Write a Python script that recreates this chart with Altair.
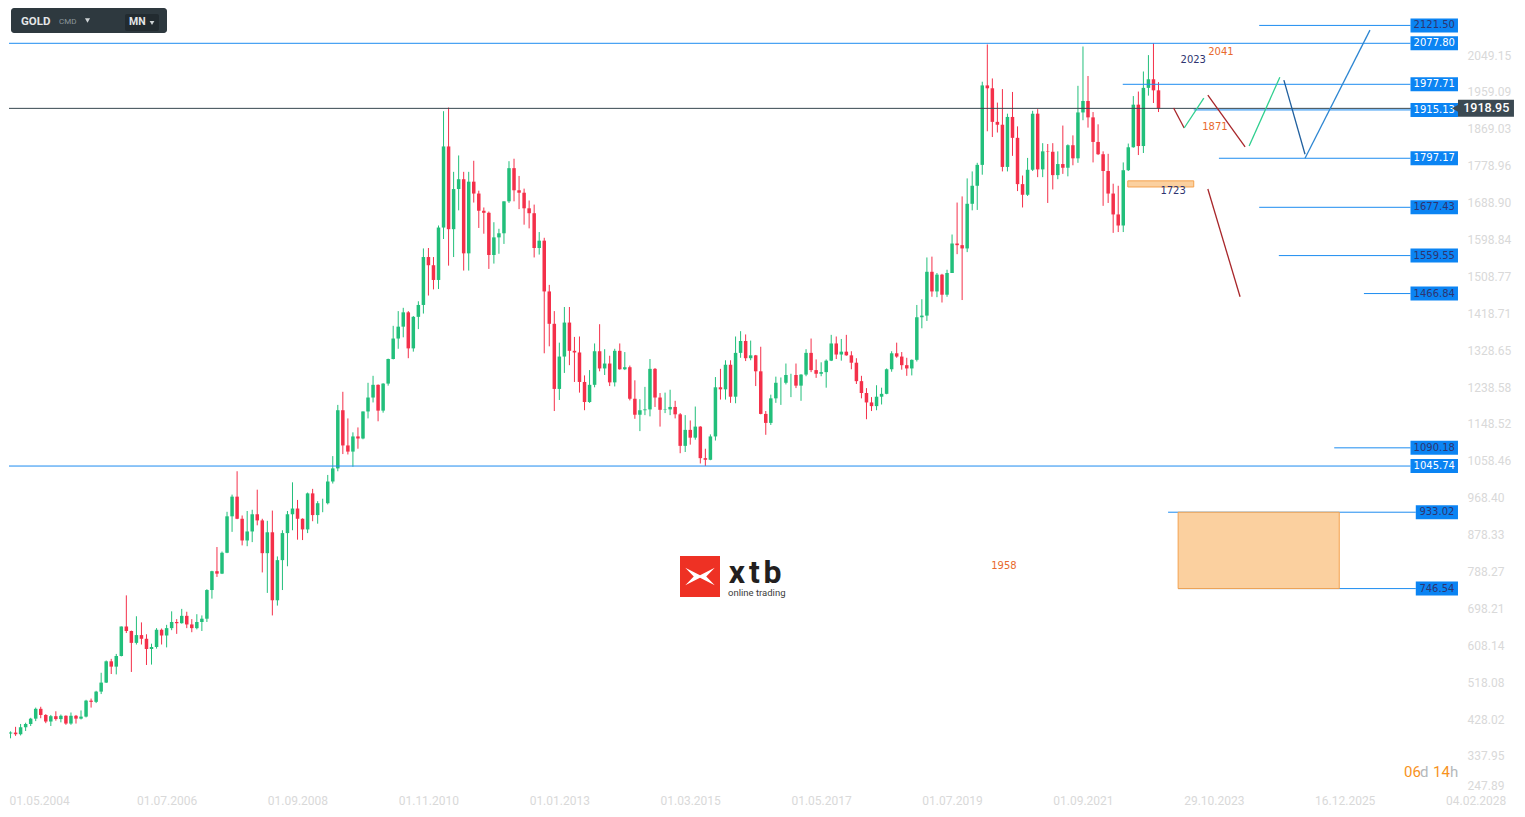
import altair as alt
import pandas as pd

# ---------------- monthly GOLD candles: May 2004 .. Jun 2023 ----------------
OPEN = [
    387, 393, 395, 391, 408, 416, 429, 453,
    438, 422, 435, 428, 436, 417, 436, 429, 434, 473, 470, 495,
    517, 569, 556, 582, 654, 643, 614, 633, 624, 599, 604, 646,
    632, 650, 665, 662, 680, 659, 650, 665, 673, 743, 789, 783,
    834, 923, 971, 917, 864, 886, 928, 913, 833, 884, 718, 816,
    882, 928, 942, 917, 891, 979, 926, 955, 955, 1008, 1040, 1182,
    1096, 1081, 1118, 1113, 1179, 1213, 1244, 1181, 1247, 1307, 1357, 1386,
    1421, 1333, 1410, 1439, 1556, 1536, 1500, 1628, 1826, 1624, 1722, 1746,
    1565, 1740, 1711, 1669, 1664, 1561, 1604, 1614, 1692, 1773, 1719, 1713,
    1675, 1663, 1578, 1596, 1472, 1393, 1234, 1313, 1396, 1327, 1323, 1251,
    1202, 1244, 1326, 1284, 1296, 1250, 1327, 1282, 1287, 1210, 1171, 1182,
    1184, 1283, 1213, 1183, 1184, 1190, 1172, 1095, 1134, 1115, 1142, 1065,
    1061, 1118, 1238, 1233, 1293, 1215, 1322, 1351, 1309, 1316, 1277, 1173,
    1151, 1211, 1249, 1249, 1268, 1268, 1242, 1269, 1322, 1280, 1271, 1275,
    1303, 1345, 1318, 1325, 1316, 1298, 1253, 1224, 1201, 1192, 1215, 1222,
    1282, 1321, 1313, 1292, 1284, 1305, 1409, 1413, 1520, 1472, 1513, 1464,
    1517, 1589, 1585, 1577, 1686, 1730, 1781, 1975, 1968, 1886, 1879, 1776,
    1898, 1847, 1734, 1708, 1769, 1906, 1770, 1814, 1813, 1756, 1783, 1774,
    1829, 1797, 1909, 1937, 1897, 1837, 1807, 1766, 1711, 1660, 1633, 1768,
    1824, 1928, 1827, 1969, 1990, 1963,
]
HIGH = [
    395, 398, 409, 416, 419, 431, 456, 458,
    440, 438, 447, 439, 437, 444, 438, 449, 475, 478, 497, 541,
    571, 575, 587, 654, 730, 644, 679, 664, 635, 612, 650, 649,
    658, 691, 672, 697, 690, 672, 684, 681, 745, 790, 848, 837,
    934, 976, 1033, 925, 936, 939, 988, 917, 912, 937, 825, 889,
    936, 1006, 963, 918, 981, 990, 960, 966, 1024, 1070, 1195, 1227,
    1162, 1128, 1140, 1179, 1249, 1266, 1245, 1248, 1308, 1388, 1424, 1432,
    1424, 1412, 1448, 1577, 1578, 1556, 1633, 1912, 1921, 1764, 1804, 1764,
    1764, 1791, 1718, 1677, 1667, 1641, 1625, 1692, 1790, 1796, 1754, 1723,
    1694, 1684, 1617, 1603, 1488, 1424, 1347, 1434, 1434, 1361, 1362, 1267,
    1280, 1345, 1392, 1331, 1315, 1332, 1345, 1324, 1291, 1255, 1209, 1239,
    1307, 1285, 1224, 1225, 1232, 1205, 1175, 1170, 1157, 1191, 1143, 1088,
    1123, 1263, 1283, 1304, 1304, 1362, 1375, 1367, 1352, 1317, 1337, 1180,
    1220, 1264, 1262, 1296, 1271, 1296, 1270, 1331, 1357, 1306, 1299, 1306,
    1366, 1362, 1356, 1366, 1326, 1309, 1266, 1236, 1214, 1243, 1237, 1284,
    1326, 1347, 1324, 1310, 1306, 1439, 1453, 1555, 1557, 1517, 1515, 1525,
    1611, 1689, 1704, 1748, 1765, 1786, 1984, 2075, 1992, 1933, 1966, 1906,
    1959, 1875, 1755, 1798, 1913, 1917, 1834, 1832, 1834, 1814, 1877, 1831,
    1853, 1974, 2070, 1998, 1910, 1880, 1814, 1808, 1735, 1730, 1787, 1833,
    1949, 1960, 2009, 2049, 2078, 1983,
]
LOW = [
    371, 381, 387, 388, 399, 411, 423, 430,
    418, 411, 424, 420, 414, 414, 417, 427, 432, 456, 467, 489,
    516, 538, 537, 581, 638, 543, 610, 610, 560, 561, 600, 610,
    603, 645, 636, 661, 650, 640, 647, 643, 665, 722, 775, 782,
    833, 885, 916, 852, 850, 860, 901, 786, 736, 681, 705, 743,
    801, 889, 866, 865, 882, 911, 905, 933, 952, 1003, 1033, 1075,
    1074, 1044, 1088, 1111, 1162, 1201, 1155, 1176, 1242, 1306, 1332, 1360,
    1309, 1325, 1380, 1418, 1462, 1477, 1478, 1600, 1535, 1556, 1670, 1523,
    1523, 1689, 1627, 1613, 1527, 1540, 1564, 1588, 1688, 1692, 1673, 1635,
    1626, 1555, 1562, 1321, 1338, 1180, 1207, 1273, 1292, 1251, 1225, 1182,
    1200, 1238, 1277, 1268, 1241, 1240, 1281, 1280, 1206, 1161, 1131, 1170,
    1167, 1190, 1142, 1175, 1170, 1162, 1077, 1080, 1098, 1110, 1052, 1046,
    1060, 1108, 1208, 1208, 1200, 1199, 1310, 1302, 1304, 1241, 1172, 1122,
    1146, 1200, 1195, 1245, 1214, 1236, 1205, 1265, 1275, 1261, 1265, 1237,
    1302, 1307, 1303, 1315, 1282, 1246, 1211, 1160, 1180, 1182, 1196, 1221,
    1276, 1310, 1281, 1266, 1267, 1301, 1382, 1400, 1459, 1458, 1445, 1459,
    1517, 1563, 1451, 1568, 1670, 1671, 1757, 1863, 1849, 1860, 1765, 1765,
    1803, 1717, 1677, 1705, 1766, 1751, 1751, 1688, 1721, 1746, 1759, 1753,
    1780, 1786, 1890, 1872, 1787, 1805, 1681, 1688, 1615, 1617, 1617, 1766,
    1823, 1805, 1810, 1950, 1932, 1910,
]
CLOSE = [
    393, 395, 391, 408, 416, 429, 453, 438,
    422, 435, 428, 436, 417, 436, 429, 434, 473, 470, 495, 517,
    569, 556, 582, 654, 643, 614, 633, 624, 599, 604, 646, 632,
    650, 665, 662, 680, 659, 650, 665, 673, 743, 789, 783, 834,
    923, 971, 917, 864, 886, 928, 913, 833, 884, 718, 816, 882,
    928, 942, 917, 891, 979, 926, 955, 955, 1008, 1040, 1182, 1096,
    1081, 1118, 1113, 1179, 1213, 1244, 1181, 1247, 1307, 1357, 1386, 1421,
    1333, 1410, 1439, 1556, 1536, 1500, 1628, 1826, 1624, 1722, 1746, 1565,
    1740, 1711, 1669, 1664, 1561, 1604, 1614, 1692, 1773, 1719, 1713, 1675,
    1663, 1578, 1596, 1472, 1393, 1234, 1313, 1396, 1327, 1323, 1251, 1202,
    1244, 1326, 1284, 1296, 1250, 1327, 1282, 1287, 1210, 1171, 1182, 1184,
    1283, 1213, 1183, 1184, 1190, 1172, 1095, 1134, 1115, 1142, 1065, 1061,
    1118, 1238, 1233, 1293, 1215, 1322, 1351, 1309, 1316, 1277, 1173, 1151,
    1211, 1249, 1249, 1268, 1268, 1242, 1269, 1322, 1280, 1271, 1275, 1303,
    1345, 1318, 1325, 1316, 1298, 1253, 1224, 1201, 1192, 1215, 1222, 1282,
    1321, 1313, 1292, 1284, 1305, 1409, 1413, 1520, 1472, 1513, 1464, 1517,
    1589, 1585, 1577, 1686, 1730, 1781, 1975, 1968, 1886, 1879, 1776, 1898,
    1847, 1734, 1708, 1769, 1906, 1770, 1814, 1813, 1756, 1783, 1774, 1829,
    1797, 1909, 1937, 1897, 1837, 1807, 1766, 1711, 1660, 1633, 1768, 1824,
    1928, 1827, 1969, 1990, 1963, 1918.95,
]

# ---------------- axis tick labels ----------------
X_TICKS = [0.7, 26, 52, 78, 104, 130, 156, 182, 208, 234, 260, 286]
X_LABELS = ["01.05.2004", "01.07.2006", "01.09.2008", "01.11.2010", "01.01.2013",
            "01.03.2015", "01.05.2017", "01.07.2019", "01.09.2021", "29.10.2023",
            "16.12.2025", "04.02.2028"]
Y_TICKS = [247.89, 337.95, 428.02, 518.08, 608.14, 698.21, 788.27, 878.33, 968.40,
           1058.46, 1148.52, 1238.58, 1328.65, 1418.71, 1508.77, 1598.84, 1688.90,
           1778.96, 1869.03, 1959.09, 2049.15]

# ---------------- price levels (horizontal lines with tags) ----------------
LEVELS = [2121.50, 2077.80, 1977.71, 1915.13, 1797.17, 1677.43, 1559.55, 1466.84,
          1090.18, 1045.74, 933.02, 746.54]
LEVEL_FROM = [249.0, 0.695, 221.9, 236.0, 241.0, 249.0, 252.9, 269.8, 263.9, 0.695, 230.9, 232.9]
LEVEL_TAG_FROM = [279.05, 279.05, 279.05, 279.05, 279.05, 279.05, 279.05, 279.05, 279.05,
                  279.05, 280.1, 280.1]
LEVEL_TAG_TO = 288.48
LEVEL_DARK_TEXT = [True, False, False, False, False, True, True, True, True, False, True, True]

CURRENT_PRICE = 1918.95

# ---------------- scenario paths (month index, price) ----------------
PATHS = {
    "r1": ([232.0, 234.1], [1920, 1871]),
    "g1": ([234.1, 238.0], [1871, 1944]),
    "r2": ([238.8, 246.2], [1951, 1825]),
    "g2": ([247.0, 253.1], [1827, 1995]),
    "b1": ([253.9, 258.1], [1988, 1807]),
    "b2": ([258.1, 271.0], [1797, 2110]),
    "r3": ([238.8, 245.2], [1722, 1459]),
}
PATH_COLORS = {"r1": "#a8262a", "g1": "#2fcf8f", "r2": "#a8262a", "g2": "#2fcf8f",
               "b1": "#1f5f9e", "b2": "#2d86d2", "r3": "#a8262a"}

# ---------------- zones ----------------
ZONE_X = [222.9, 232.9]
ZONE_X2 = [236.0, 264.9]
ZONE_Y = [1727, 746.54]
ZONE_Y2 = [1742, 933.02]

# ---------------- notes ----------------
NOTE_TEXT = ["2023", "2041", "1871", "1723", "1958"]
NOTE_X = [235.9, 241.4, 240.2, 231.9, 198.3]
NOTE_Y = [2037, 2056.6, 1873.3, 1717, 802]
NOTE_ORANGE = [False, True, True, False, True]

# ---------------- styles ----------------
UP, DOWN = "#22bf7b", "#f4304a"
LINE_BLUE, TAG_BLUE = "#1d8cf0", "#0b84f3"
NAVY, ORANGE = "#2e3470", "#e8692c"
AXIS_GRAY = "#d9d9d9"

X_MIN, X_MAX = 0.695, 289.08
Y_MIN, Y_MAX = 242.6, 2164.0
W, H = 1452, 787

SX = alt.Scale(domain=[X_MIN, X_MAX], nice=False, zero=False, padding=0)
SY = alt.Scale(domain=[Y_MIN, Y_MAX], nice=False, zero=False, padding=0)
label_expr = "[" + ",".join("'%s'" % s for s in X_LABELS) + "][round(datum.value/26)]"
AX = alt.Axis(values=X_TICKS, labelExpr=label_expr, labelAlign="left", labelBaseline="middle",
              labelPadding=5, labelColor=AXIS_GRAY, labelFont="Roboto", labelFontSize=12,
              domain=False, ticks=False, grid=False, title=None, labelFlush=False,
              labelOverlap=False)
AY = alt.Axis(orient="right", values=Y_TICKS, format=".2f", labelPadding=6,
              labelBaseline={"condition": {"test": "datum.value < 300", "value": "bottom"},
                             "value": "middle"},
              labelColor=AXIS_GRAY, labelFont="Roboto", labelFontSize=12,
              domain=False, ticks=False, grid=False, title=None, labelOverlap=False)


def X(f):
    return alt.X(f, type="quantitative", scale=SX, axis=AX)


def Y(f):
    return alt.Y(f, type="quantitative", scale=SY, axis=AY)


candles = pd.DataFrame({"i": list(range(len(CLOSE))), "o": OPEN, "h": HIGH, "l": LOW, "c": CLOSE})
cand_color = alt.condition("datum.c >= datum.o", alt.value(UP), alt.value(DOWN))

wicks = alt.Chart(candles).mark_rule(strokeWidth=1, clip=True).encode(
    x=X("i"), y=Y("l"), y2="h", color=cand_color)
bodies = alt.Chart(candles).mark_bar(size=3.5, clip=True).encode(
    x=X("i"), y=Y("o"), y2="c", color=cand_color)

levels = pd.DataFrame({"p": LEVELS, "x0": LEVEL_FROM, "x1": LEVEL_TAG_FROM,
                       "dark": LEVEL_DARK_TEXT, "t": ["%.2f" % v for v in LEVELS]})
levels["x2"] = LEVEL_TAG_TO
level_lines = alt.Chart(levels).mark_rule(color=LINE_BLUE, strokeWidth=1).encode(
    x=X("x0"), x2="x1", y=Y("p"))
level_tags = alt.Chart(levels).mark_bar(orient="horizontal", size=14, color=TAG_BLUE).encode(
    x=X("x1"), x2="x2", y=Y("p"))
level_text = alt.Chart(levels).transform_calculate(xm="(datum.x1 + datum.x2) / 2").mark_text(
    font="DejaVu Sans", fontSize=10, align="center", baseline="middle").encode(
    x=X("xm"), y=Y("p"), text="t:N",
    color=alt.condition("datum.dark", alt.value(NAVY), alt.value("white")))

cur = pd.DataFrame({"p": [CURRENT_PRICE], "x0": [X_MIN], "x1": [LEVEL_TAG_TO],
                    "x2": [299.6], "xm": [294.1], "xa": [288.1], "t": ["%.2f" % CURRENT_PRICE]})
cur_line = alt.Chart(cur).mark_rule(color="#37474f", strokeWidth=1).encode(
    x=X("x0"), x2="x1", y=Y("p"))
cur_box = alt.Chart(cur).mark_bar(orient="horizontal", size=17, color="#3b4952").encode(
    x=X("x1"), x2="x2", y=Y("p"))
cur_arrow = alt.Chart(cur).mark_point(shape="triangle-left", size=90, filled=True, opacity=1,
                                      color="#3b4952").encode(x=X("xa"), y=Y("p"))
cur_text = alt.Chart(cur).mark_text(font="Roboto", fontSize=12.5, fontWeight=500, color="white",
                                    align="center", baseline="middle").encode(
    x=X("xm"), y=Y("p"), text="t:N")

zones = pd.DataFrame({"x": ZONE_X, "x2": ZONE_X2, "y": ZONE_Y, "y2": ZONE_Y2})
zone_rects = alt.Chart(zones).mark_rect(fill="#fbd09f", stroke="#f4a24f", strokeWidth=1).encode(
    x=X("x"), x2="x2", y=Y("y"), y2="y2")

path_layers = []
for key, (xs, ys) in PATHS.items():
    df = pd.DataFrame({"x": xs, "y": ys})
    path_layers.append(alt.Chart(df).mark_line(color=PATH_COLORS[key], strokeWidth=1.3).encode(
        x=X("x"), y=Y("y")))

notes = pd.DataFrame({"t": NOTE_TEXT, "x": NOTE_X, "y": NOTE_Y, "o": NOTE_ORANGE})
note_text = alt.Chart(notes).mark_text(font="DejaVu Sans", fontSize=10, align="center",
                                       baseline="middle").encode(
    x=X("x"), y=Y("y"), text="t:N",
    color=alt.condition("datum.o", alt.value(ORANGE), alt.value(NAVY)))

# ---------------- chrome: instrument box, countdown, logo (pixel positions) ----------------
one = pd.DataFrame({"k": [0]})


def rect(x, x2, y, y2, color, r=0):
    return alt.Chart(one).mark_rect(color=color, cornerRadius=r).encode(
        x=alt.value(x), x2=alt.value(x2), y=alt.value(y), y2=alt.value(y2))


def txt(s, x, y, size, color, weight="normal", align="left", font="Roboto", baseline="middle"):
    return alt.Chart(one).mark_text(text=s, font=font, fontSize=size, fontWeight=weight,
                                    color=color, align=align, baseline=baseline).encode(
        x=alt.value(x), y=alt.value(y))


def tri(x, y, size, color, shape="triangle-down"):
    return alt.Chart(one).mark_point(shape=shape, size=size, filled=True, opacity=1,
                                     color=color).encode(x=alt.value(x), y=alt.value(y))


chrome = [
    rect(2, 158, 0, 25, "#2e393f", 3),
    txt("GOLD", 12, 13.5, 11.5, "#e4e6e7", "bold"),
    txt("CMD", 50, 14, 8, "#8c969b"),
    tri(78.5, 12.5, 26, "#cfd4d6"),
    rect(116, 150, 6, 23, "#222b30", 2),
    txt("MN", 120, 14, 10.5, "#e4e6e7", "bold"),
    tri(143, 15, 22, "#cfd4d6"),
    txt("06", 1395, 764, 15, "#f7931e"),
    txt("d", 1411, 764, 15, "#b4b8bb"),
    txt("14", 1424, 764, 15, "#f7931e"),
    txt("h", 1441, 764, 15, "#b4b8bb"),
    rect(671, 711, 548, 589, "#ee3124"),
    alt.Chart(one).mark_point(
        shape="M-0.85,-0.5L0,-0.07L0.85,-0.5L0.36,0L0.85,0.5L0,0.07L-0.85,0.5L-0.36,0Z",
        size=1200, filled=True, opacity=1, color="white", strokeWidth=0).encode(
        x=alt.value(691), y=alt.value(568.5)),
    txt("x", 728, 575, 32, "#231f20", "bold", "center", baseline="alphabetic"),
    txt("t", 745.5, 575, 32, "#231f20", "bold", "center", baseline="alphabetic"),
    txt("b", 763.5, 575, 32, "#231f20", "bold", "center", baseline="alphabetic"),
    txt("online trading", 719, 584.5, 9.5, "#3c3c3c"),
]

chart = alt.layer(
    wicks, bodies, level_lines, cur_line, *path_layers, zone_rects,
    level_tags, level_text, cur_box, cur_arrow, cur_text, note_text, *chrome
).properties(
    width=W, height=H, padding={"left": 0, "top": 0, "right": 0, "bottom": 0},
    background="white"
).configure_view(stroke=None)

chart.save("out.html", embed_options={"renderer": "svg", "actions": False})
